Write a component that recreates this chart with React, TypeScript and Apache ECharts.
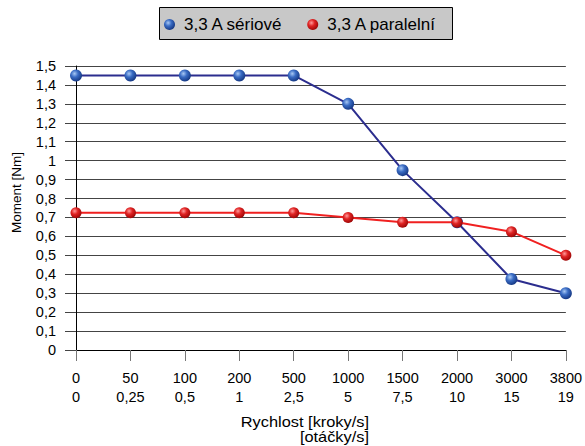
import React, { useEffect, useRef } from "react";
import * as echarts from "echarts";

const krokyLabels = ["0", "50", "100", "200", "500", "1000", "1500", "2000", "3000", "3800"];
const otackyLabels = ["0", "0,25", "0,5", "1", "2,5", "5", "7,5", "10", "15", "19"];
const seriesNames = ["3,3 A sériové", "3,3 A paralelní"];
const serioveValues = [1.45, 1.45, 1.45, 1.45, 1.45, 1.3, 0.95, 0.675, 0.375, 0.3];
const paralelniValues = [0.725, 0.725, 0.725, 0.725, 0.725, 0.7, 0.675, 0.675, 0.625, 0.5];
const yTitle = "Moment [Nm]";
const xTitle = "Rychlost [kroky/s]\n[otáčky/s]";

const FONT = "'Liberation Sans', Arial, sans-serif";

function sphere(light: string, mid: string, dark: string) {
  return new echarts.graphic.RadialGradient(0.38, 0.35, 0.65, [
    { offset: 0, color: light },
    { offset: 0.45, color: mid },
    { offset: 1, color: dark },
  ]);
}

export default function App() {
  const ref = useRef<HTMLDivElement>(null);
  useEffect(() => {
    if (!ref.current) return;
    const chart = echarts.init(ref.current, undefined, { renderer: "svg" });
    const categories = krokyLabels.map((k, i) => k + "\n" + otackyLabels[i]);
    chart.setOption({
      animation: false,
      backgroundColor: "#ffffff",
      textStyle: { fontFamily: FONT },
      grid: { left: 76, right: 18, top: 66, bottom: 96 },
      legend: {
        left: 164,
        top: 16,
        padding: 0,
        z: 100,
        icon: "circle",
        itemWidth: 11,
        itemHeight: 11,
        itemGap: 24,
        data: seriesNames,
        textStyle: { fontSize: 17, color: "#000", fontFamily: FONT, padding: [0, 0, 0, 4] },
      },
      graphic: [
        {
          type: "rect",
          z: 0,
          shape: { x: 159.5, y: 7.5, width: 293, height: 32 },
          style: { fill: "#c8c8c8", stroke: "#000", lineWidth: 1 },
        },
        {
          type: "text",
          z: 10,
          x: 369,
          y: 414.5,
          scaleX: 1.17,
          style: {
            text: xTitle,
            fontSize: 14,
            fontFamily: FONT,
            fill: "#000",
            align: "right",
            verticalAlign: "top",
            lineHeight: 15,
          },
        },
        {
          type: "text",
          z: 10,
          x: 16.5,
          y: 192.5,
          rotation: Math.PI / 2,
          style: {
            text: yTitle,
            fontSize: 13.5,
            fontFamily: FONT,
            fill: "#000",
            align: "center",
            verticalAlign: "middle",
          },
        },
      ],
      xAxis: {
        type: "category",
        boundaryGap: false,
        data: categories,
        axisLine: { lineStyle: { color: "#000", width: 1 } },
        axisTick: { show: true, length: 11, lineStyle: { color: "#777" } },
        axisLabel: {
          color: "#000",
          fontSize: 14.5,
          lineHeight: 19,
          margin: 18,
          interval: 0,
          fontFamily: FONT,
        },
        splitLine: { show: false },
      },
      yAxis: {
        type: "value",
        min: 0,
        max: 1.5,
        interval: 0.1,
        axisLine: { show: true, lineStyle: { color: "#000", width: 1 } },
        axisTick: { show: true, length: 11, lineStyle: { color: "#444" } },
        axisLabel: {
          color: "#000",
          fontSize: 14.5,
          margin: 20,
          fontFamily: FONT,
          formatter: (v: number) => String(Math.round(v * 10) / 10).replace(".", ","),
        },
        splitLine: { show: true, lineStyle: { color: "#444", width: 1 } },
      },
      series: [
        {
          name: seriesNames[0],
          type: "line",
          data: serioveValues,
          symbol: "circle",
          symbolSize: 12,
          z: 3,
          lineStyle: { color: "#2b2d8e", width: 2 },
          itemStyle: { color: sphere("#a8c8f4", "#3a6cc4", "#173a86") },
        },
        {
          name: seriesNames[1],
          type: "line",
          data: paralelniValues,
          symbol: "circle",
          symbolSize: 11,
          z: 4,
          lineStyle: { color: "#f02020", width: 2 },
          itemStyle: { color: sphere("#ff9a9a", "#e02424", "#a00808") },
        },
      ],
    });
    return () => chart.dispose();
  }, []);
  return (
    <div
      ref={ref}
      style={{ position: "fixed", left: 0, top: 0, width: 585, height: 446, background: "#fff" }}
    />
  );
}
